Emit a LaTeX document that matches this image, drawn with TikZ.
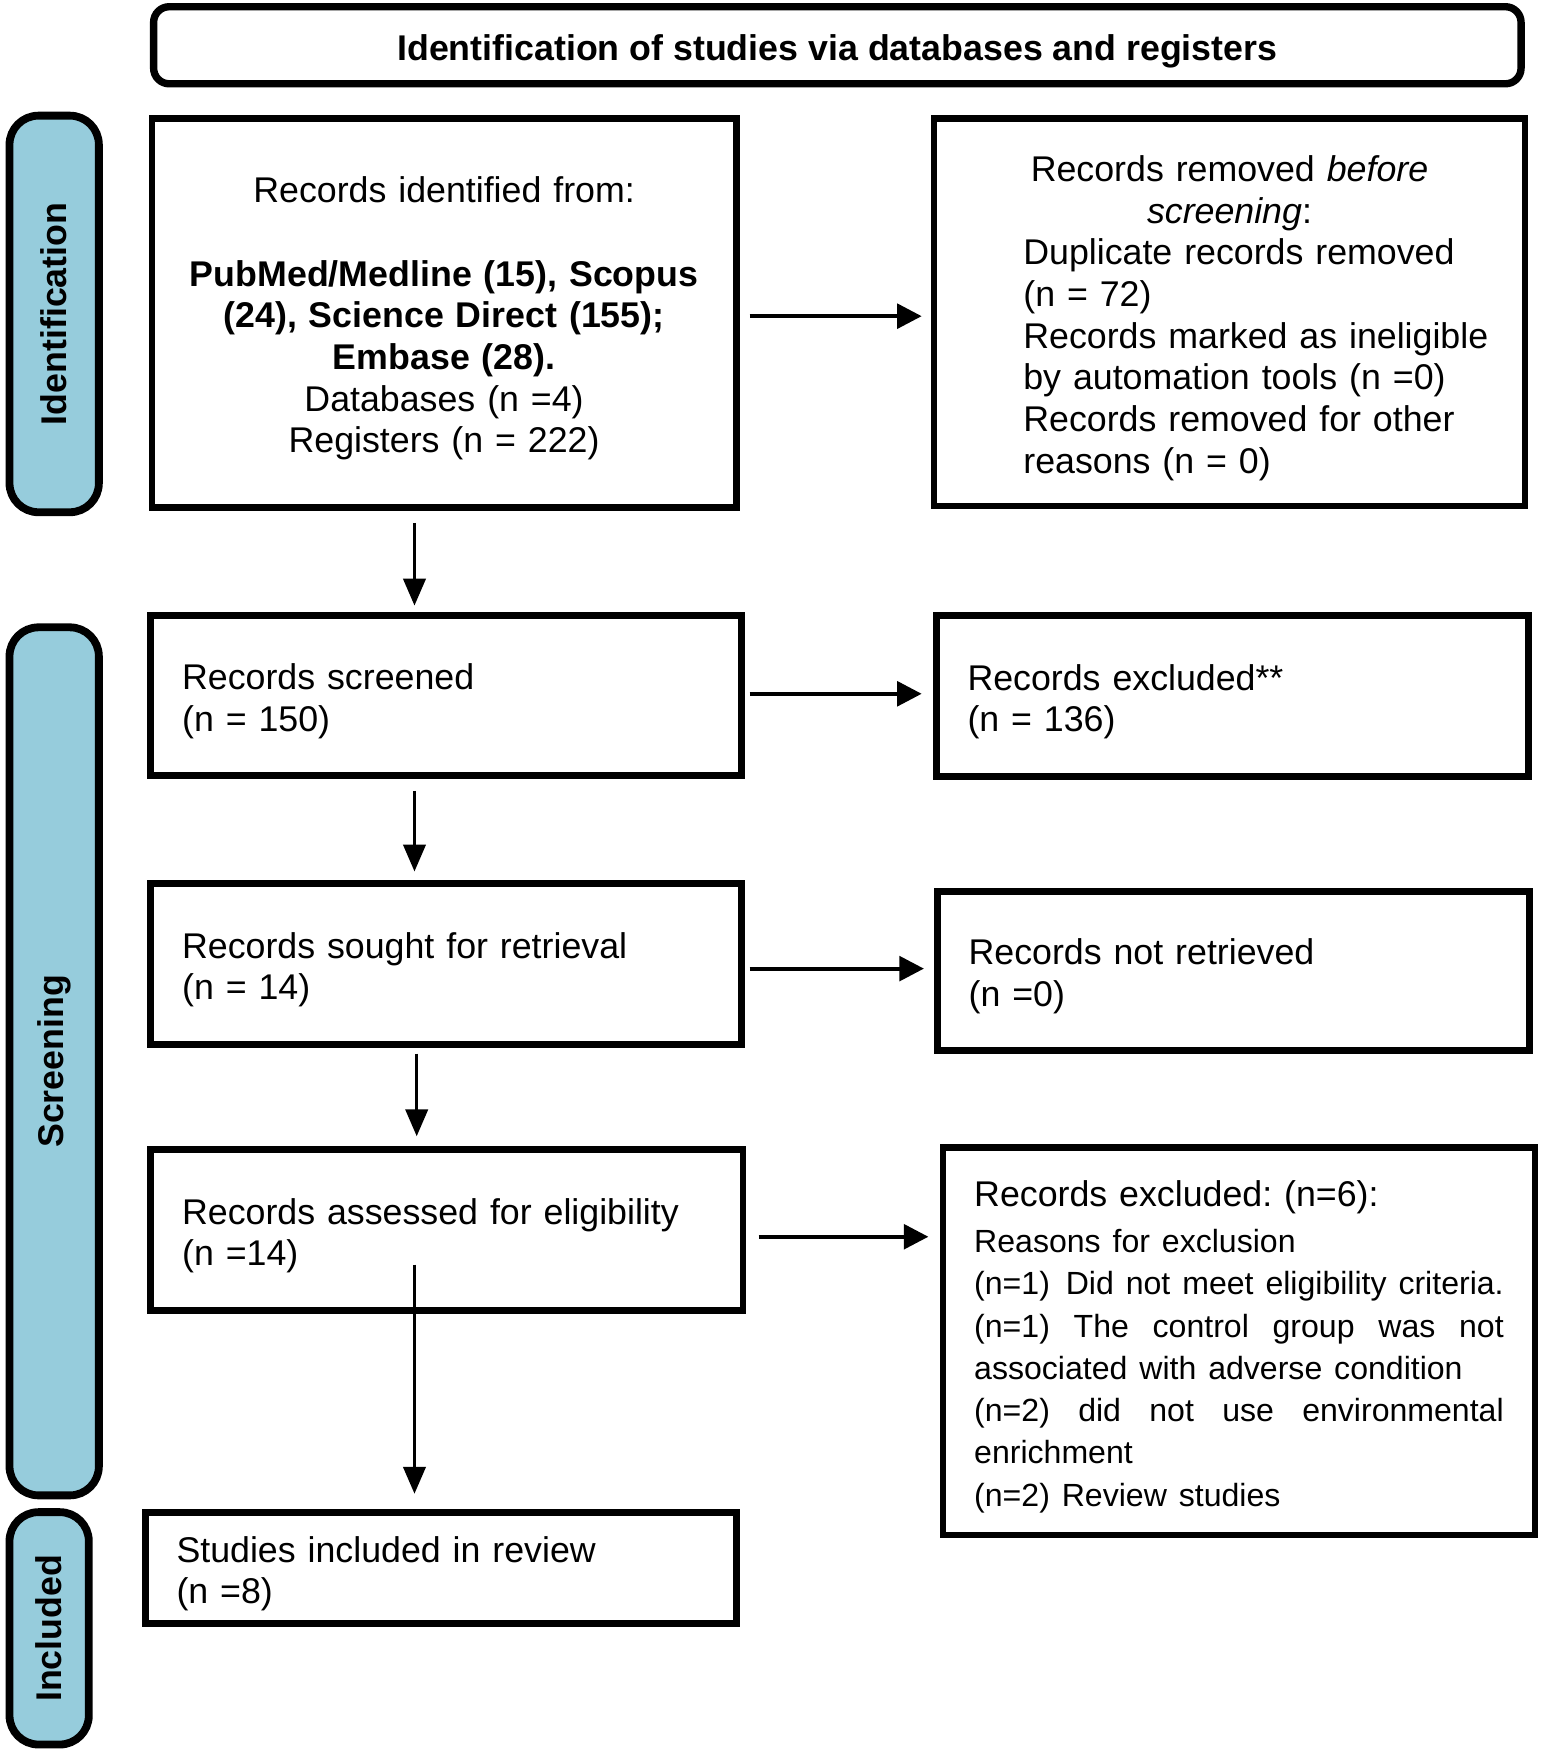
\documentclass[tikz,border=0pt]{standalone}
\usepackage{fontspec}
\setmainfont{Liberation Sans}
\usetikzlibrary{arrows.meta,calc}
\definecolor{sidebl}{RGB}{150,204,220}
\setlength{\parindent}{0pt}
\setlength{\parskip}{0pt}
\frenchspacing
\newcommand{\tstrut}{\rule{0pt}{16.7pt}}
\begin{document}
\begin{tikzpicture}[x=0.5pt,y=-0.5pt,
  basefont/.style={font=\fontsize{16pt}{18.65pt}\selectfont},
  box/.style={draw, line width=3pt, inner sep=0pt, basefont},
  lbox/.style={box, align=left},
  cbox/.style={box, align=center},
  titlebox/.style={draw, line width=3.3pt, rounded corners=7pt, inner sep=0pt,
    text height=16.7pt, text depth=3.4pt,
    font=\fontsize{16pt}{18.65pt}\selectfont\bfseries},
  side/.style={draw, line width=3.5pt, rounded corners=13pt, fill=sidebl, inner sep=0pt,
    rotate=90, font=\fontsize{16pt}{18.65pt}\selectfont\bfseries},
  harr/.style={line width=1.8pt, -{Triangle[length=11pt,width=11pt]}},
  varr/.style={line width=1.3pt, -{Triangle[length=12pt,width=10pt]}},
]
\useasboundingbox (0,0) rectangle (1384,1570);

% title
\node[titlebox, minimum width=612pt, minimum height=34.5pt] (T) at (749.5,40.5)
  {Identification of studies via databases and registers};

% side labels
\node[side, minimum width=177.5pt, minimum height=40pt] (sid) at (48.5,281) {Identification};
\node[side, minimum width=388.5pt, minimum height=40pt] (sscr) at (48.5,950) {Screening};
\node[side, minimum width=104pt, minimum height=35.5pt] (sinc) at (44,1457.5) {Included};

% boxes
\node[cbox, text width=250pt, minimum width=261.5pt, minimum height=174pt] (A) at (397.5,280)
  {\tstrut Records identified from:\par
   \mbox{}\par
   \textbf{PubMed/Medline (15), Scopus}\par
   \textbf{(24), Science Direct (155);}\par
   \textbf{Embase (28).}\par
   Databases (n =4)\par
   Registers (n = 222)\par};

\node[lbox, text width=235pt, minimum width=264.5pt, minimum height=173.5pt] (B) at (1100.5,279.5)
  {{\centering \tstrut Records removed \textit{before}\par \textit{screening}:\par}
   \leftskip=25.25pt
   Duplicate records removed\par
   (n = 72)\par
   Records marked as ineligible\par
   by automation tools (n =0)\par
   Records removed for other\par
   reasons (n = 0)\par};

\node[lbox, text width=236.5pt, minimum width=264.5pt, minimum height=71.5pt] (C) at (399.5,622.5)
  {\tstrut Records screened\par (n = 150)\par};
\node[lbox, text width=237pt, minimum width=265pt, minimum height=72pt] (D) at (1103,623)
  {\tstrut Records excluded**\par (n = 136)\par};
\node[lbox, text width=236.5pt, minimum width=264.5pt, minimum height=72pt] (E) at (399.5,863)
  {\tstrut Records sought for retrieval\par (n = 14)\par};
\node[lbox, text width=237pt, minimum width=265pt, minimum height=71pt] (F) at (1104,869)
  {\tstrut Records not retrieved\par (n =0)\par};
\node[lbox, text width=237pt, minimum width=265pt, minimum height=72pt] (G) at (400,1101)
  {\tstrut Records assessed for eligibility\par (n =14)\par};
\node[lbox, text width=237pt, minimum width=265pt, minimum height=173.5pt] (H) at (1109,1200.5)
  {\tstrut Records excluded: (n=6):\par
   \fontsize{14.35pt}{20.5pt}\selectfont
   Reasons for exclusion\par
   \fontsize{14.35pt}{18.9pt}\selectfont
   \mbox{(n=1)}\hfill\mbox{Did not meet eligibility criteria.}\par
   (n=1)\hfill The\hfill control\hfill group\hfill was\hfill not\par
   associated with adverse condition\par
   (n=2)\hfill did\hfill not\hfill use\hfill environmental\par
   enrichment\par
   (n=2) Review studies\par};
\node[lbox, text width=236.5pt, minimum width=264.5pt, minimum height=49.5pt] (I) at (394.5,1403.5)
  {\tstrut Studies included in review\par (n =8)\par};

% horizontal connectors
\draw[harr] ($(A.east)+(9,3)$) -- ($(A.east -| B.west)+(-8,3)$);
\draw[harr] ($(C.east)+(4,-1.5)$) -- ($(C.east -| D.west)+(-10,-1.5)$);
\draw[harr] ($(E.east)+(4,4)$) -- ($(E.east -| F.west)+(-9,4)$);
\draw[harr] ($(G.east)+(11,6)$) -- ($(G.east -| H.west)+(-10,6)$);

% vertical connectors
\coordinate (colA) at (371,0);
\coordinate (colB) at (373,0);
\coordinate (gstart) at (371,1132);
\draw[varr] ($(A.south -| colA)+(0,11)$) -- ($(C.north -| colA)+(0,-6)$);
\draw[varr] ($(C.south -| colA)+(0,11)$) -- ($(E.north -| colA)+(0,-8)$);
\draw[varr] ($(E.south -| colB)+(0,5)$) -- ($(G.north -| colB)+(0,-9)$);
\draw[varr] (gstart) -- ($(I.north -| gstart)+(0,-14)$);
\end{tikzpicture}
\end{document}
